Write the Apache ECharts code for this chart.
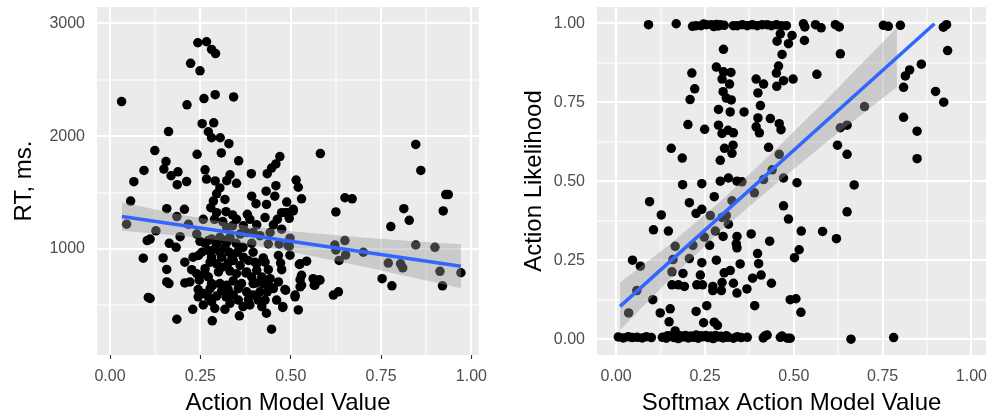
<!DOCTYPE html>
<html><head><meta charset="utf-8">
<script src="https://cdn.jsdelivr.net/npm/echarts@6/dist/echarts.min.js"></script>
<style>html,body{margin:0;padding:0;background:#fff}#c{width:990px;height:420px}</style>
</head><body><div id="c"></div>
<script>
// ---------- Left panel: Action Model Value vs RT ----------
const amvX = [0.243,0.267,0.281,0.292,0.223,0.249,0.032,0.213,0.260,0.291,0.342,0.255,0.287,0.162,0.272,0.281,0.305,0.329,0.124,0.241,
0.308,0.356,0.155,0.149,0.094,0.169,0.188,0.066,0.263,0.267,0.291,0.212,0.186,0.332,0.323,0.350,0.391,0.435,0.447,0.459,
0.470,0.459,0.582,0.846,0.860,0.515,0.521,0.304,0.295,0.456,0.432,0.530,0.392,0.404,0.286,0.279,0.489,0.157,0.206,0.321,
0.339,0.380,0.387,0.490,0.507,0.496,0.429,0.463,0.452,0.185,0.217,0.258,0.289,0.312,0.406,0.339,0.127,0.240,0.194,0.164,
0.111,0.263,0.281,0.304,0.332,0.349,0.360,0.378,0.415,0.438,0.468,0.498,0.493,0.392,0.318,0.290,0.272,0.147,0.230,0.245,
0.281,0.304,0.330,0.352,0.396,0.424,0.466,0.295,0.327,0.360,0.383,0.429,0.472,0.526,0.544,0.157,0.226,0.263,0.300,0.332,
0.438,0.475,0.240,0.272,0.157,0.207,0.247,0.304,0.341,0.364,0.392,0.420,0.443,0.466,0.526,0.530,0.562,0.581,0.567,0.244,
0.277,0.309,0.327,0.355,0.378,0.415,0.435,0.484,0.111,0.244,0.272,0.295,0.355,0.383,0.410,0.461,0.512,0.258,0.290,0.318,
0.420,0.433,0.478,0.521,0.229,0.358,0.185,0.283,0.447,0.057,0.046,0.103,0.092,0.163,0.106,0.507,0.486,0.650,0.670,0.625,
0.813,0.828,0.922,0.929,0.936,0.777,0.496,0.622,0.625,0.650,0.652,0.634,0.701,0.846,0.899,0.770,0.804,0.810,0.913,0.971,
0.753,0.780,0.920,0.524,0.530,0.526,0.512,0.579,0.565,0.486,0.618,0.632,0.478,0.249,0.318,0.368,0.338,0.310,0.376,0.404,
0.285,0.321,0.443,0.401,0.498,0.368,0.207,0.183,
0.272,0.295,0.323,0.254,0.277,0.309,0.341,0.369,0.406,0.263,0.350,0.378,0.406,0.221,0.281,0.323,0.396,0.424,0.452,0.258,
0.341,0.396,0.429,0.281,0.332,0.387,0.295,0.350,0.323,0.369,0.396,0.443,0.475,0.318,0.433,0.475];
const rtY = [2828,2837,2769,2732,2646,2579,2307,2278,2333,2368,2348,2111,2118,2041,2039,1986,1986,1933,1872,1839,
1851,1781,1775,1708,1696,1649,1684,1596,1702,1620,1603,1597,1570,1658,1605,1582,1667,1667,1717,1754,
1819,1561,1846,1927,1696,1611,1547,1541,1489,1468,1512,1445,1468,1401,1425,1366,1416,1357,1351,1331,
1302,1307,1263,1322,1351,1272,1278,1263,1214,1287,1219,1263,1263,1243,1214,1205,1161,1132,1109,1050,
1088,1050,1088,1103,1103,1050,1132,1146,1118,1044,1044,1096,1030,1050,1015,1000,986,921,927,942,
927,971,971,971,971,921,942,868,875,854,898,883,875,868,892,819,816,825,796,804,
816,816,781,752,708,699,723,693,717,693,752,752,737,708,728,679,737,723,679,640,
649,629,640,649,620,620,620,640,561,576,576,582,547,553,547,547,576,504,474,465,
489,430,482,460,465,407,377,363,289,1425,1219,1074,918,693,570,1337,1322,1454,1445,1328,
1357,1254,1337,1482,1482,1199,1024,1035,991,1074,947,898,971,1035,1015,875,868,833,802,789,
737,673,673,863,767,664,591,728,679,635,591,620,489,1068,1077,1015,927,839,787,699,
682,576,664,883,945,489,883,1015,
1074,1044,1059,971,883,927,898,927,868,781,781,796,811,708,693,679,693,693,649,605,
591,591,547,532,518,504,1322,1263,1190,1205,1146,1146,1175,1439,1395,1322];
// fitted line and 95% band
const fitLX = [0.033, 0.971];
const fitLY = [1287, 846];
const bandLX = [0.033, 0.2, 0.36, 0.5, 0.7, 0.85, 0.971];
const bandLLo = [1162, 1114, 1052, 976, 845, 739, 651];
const bandLHi = [1412, 1302, 1214, 1158, 1101, 1067, 1041];
const leftXTicks = [0, 0.25, 0.5, 0.75, 1];
const leftXMinor = [0.125, 0.375, 0.625, 0.875];
const leftYTicks = [1000, 2000, 3000];
const leftYMinor = [500, 1500, 2500];

// ---------- Right panel: Softmax Action Model Value vs Action Likelihood ----------
const smX = [
0.091,0.169,0.225,0.239,0.254,0.268,0.282,0.293,0.304,0.330,0.341,0.355,0.369,0.383,0.397,0.411,0.425,0.437,0.451,0.465,
0.479,0.527,0.531,0.561,0.577,0.617,0.628,0.752,0.766,0.800,0.921,0.930,0.215,0.246,0.275,0.288,
0.006,0.020,0.034,0.045,0.059,0.073,0.085,0.099,0.130,0.141,0.152,0.163,0.175,0.189,0.203,0.217,0.231,0.245,0.259,0.273,
0.287,0.301,0.315,0.330,0.341,0.352,0.369,0.414,0.425,0.462,0.482,0.166,0.180,0.195,0.210,0.225,0.238,0.252,0.266,0.280,
0.295,0.310,0.160,0.145,0.467,0.490,0.661,0.781,0.418,
0.462,0.495,0.453,0.485,0.530,0.302,0.467,0.631,0.933,0.282,0.302,0.323,0.213,0.457,0.451,0.471,0.498,0.565,0.809,0.814,
0.826,0.859,0.899,0.922,0.699,0.298,0.319,0.394,0.415,0.452,0.221,0.301,0.399,0.310,0.324,0.208,0.406,0.288,0.321,0.360,
0.399,0.434,0.202,0.249,0.288,0.298,0.315,0.330,0.394,0.403,0.459,0.464,0.631,0.650,0.809,0.847,0.623,0.650,0.847,0.155,
0.186,0.305,0.329,0.326,0.293,0.429,0.459,0.439,0.471,0.415,0.187,0.241,0.293,0.316,0.340,0.354,0.509,0.670,0.094,0.206,
0.276,0.471,0.485,0.127,0.225,0.241,0.265,0.298,0.310,0.326,0.389,0.650,0.105,0.147,0.166,0.216,0.248,0.263,0.279,0.301,
0.316,0.340,0.338,0.340,0.380,0.432,0.521,0.581,0.620,0.515,0.502,0.046,0.068,0.157,0.160,0.206,0.188,0.241,0.282,0.304,
0.321,0.349,0.401,0.398,0.237,0.157,0.175,0.192,0.227,0.243,0.272,0.298,0.296,0.272,0.330,0.340,0.368,0.384,0.408,0.437,
0.058,0.103,0.035,0.124,0.152,0.149,0.225,0.255,0.246,0.276,0.285,0.390,0.490,0.520,0.506];
const likY = [
0.995,0.998,0.992,0.992,0.995,0.995,0.996,0.995,0.993,0.992,0.992,0.995,0.992,0.995,0.992,0.995,0.995,0.992,0.995,0.992,
0.992,0.998,0.988,0.995,0.985,0.995,0.988,0.993,0.990,0.993,0.987,0.995,0.990,0.997,0.989,0.991,
0.007,0.004,0.008,0.005,0.006,0.004,0.008,0.005,0.006,0.003,0.009,0.005,0.002,0.007,0.004,0.006,0.003,0.008,0.005,0.002,
0.007,0.004,0.006,0.003,0.008,0.005,0.006,0.004,0.013,0.006,0.003,0.026,0.011,0.012,0.010,0.013,0.011,0.012,0.010,0.012,
0.009,0.011,0.012,0.011,0.010,0.003,0.000,0.005,0.010,
0.966,0.961,0.943,0.935,0.945,0.917,0.901,0.903,0.913,0.861,0.846,0.844,0.842,0.864,0.842,0.818,0.823,0.838,0.797,0.833,
0.852,0.870,0.784,0.750,0.736,0.823,0.807,0.823,0.807,0.800,0.792,0.783,0.779,0.763,0.757,0.758,0.739,0.727,0.719,0.719,
0.700,0.698,0.679,0.664,0.677,0.651,0.661,0.653,0.672,0.653,0.682,0.663,0.669,0.677,0.702,0.658,0.614,0.585,0.571,0.604,
0.573,0.604,0.614,0.588,0.566,0.607,0.585,0.536,0.510,0.505,0.489,0.492,0.500,0.510,0.500,0.498,0.495,0.488,0.435,0.432,
0.451,0.422,0.380,0.393,0.398,0.411,0.391,0.385,0.391,0.438,0.463,0.403,0.346,0.342,0.294,0.297,0.323,0.297,0.342,0.325,
0.364,0.325,0.302,0.289,0.333,0.310,0.342,0.341,0.318,0.283,0.258,0.250,0.231,0.213,0.252,0.255,0.208,0.242,0.250,0.210,
0.217,0.238,0.239,0.271,0.203,0.172,0.172,0.167,0.172,0.172,0.167,0.179,0.154,0.154,0.177,0.146,0.159,0.193,0.203,0.177,
0.154,0.125,0.083,0.083,0.096,0.055,0.088,0.106,0.052,0.054,0.044,0.106,0.125,0.085,0.128];
const fitRX = [0.011, 0.896];
const fitRY = [0.104, 0.998];
const bandRX = [0.011, 0.15, 0.3, 0.45, 0.6, 0.79];
const bandRLo = [0.029, 0.189, 0.349, 0.492, 0.631, 0.797];
const bandRHi = [0.179, 0.299, 0.443, 0.602, 0.767, 0.985];
const rightXTicks = [0, 0.25, 0.5, 0.75, 1];
const rightXMinor = [0.125, 0.375, 0.625, 0.875];
const rightYTicks = [0, 0.25, 0.5, 0.75, 1];
const rightYMinor = [0.125, 0.375, 0.625, 0.875];

const FONT = 'Liberation Sans, Arial, Helvetica, sans-serif';
const zip = (a, b) => a.map((v, i) => [v, b[i]]);

// panel background + grid lines drawn through the axes' own scales
function gridSeries(idx, xMaj, xMin, yMaj, yMin, xMid, yMid) {
  const lines = [];
  xMin.forEach(v => lines.push({v: v, vert: true, w: 1}));
  yMin.forEach(v => lines.push({v: v, vert: false, w: 1}));
  xMaj.forEach(v => lines.push({v: v, vert: true, w: 2}));
  yMaj.forEach(v => lines.push({v: v, vert: false, w: 2}));
  return {
    type: 'custom', xAxisIndex: idx, yAxisIndex: idx, z: 2, silent: true, animation: false,
    data: [[xMid, yMid]],
    renderItem: function (params, api) {
      const cs = params.coordSys;
      const children = [{type: 'rect', shape: {x: cs.x, y: cs.y, width: cs.width, height: cs.height},
        style: {fill: '#EBEBEB', stroke: null}}];
      lines.forEach(l => {
        if (l.vert) {
          const x = Math.round(api.coord([l.v, yMid])[0]);
          children.push({type: 'rect', shape: {x: x - l.w / 2, y: cs.y, width: l.w, height: cs.height},
            style: {fill: '#FFFFFF', stroke: null}});
        } else {
          const y = Math.round(api.coord([xMid, l.v])[1]);
          children.push({type: 'rect', shape: {x: cs.x, y: y - l.w / 2, width: cs.width, height: l.w},
            style: {fill: '#FFFFFF', stroke: null}});
        }
      });
      return {type: 'group', children: children};
    }
  };
}

function ribbon(idx, xs, lo, hi) {
  return {
    type: 'custom', xAxisIndex: idx, yAxisIndex: idx, z: 4, silent: true, animation: false,
    data: [[xs[0], lo[0]]],
    renderItem: function (params, api) {
      const pts = [];
      for (let i = 0; i < xs.length; i++) pts.push(api.coord([xs[i], hi[i]]));
      for (let i = xs.length - 1; i >= 0; i--) pts.push(api.coord([xs[i], lo[i]]));
      return {type: 'polygon', shape: {points: pts}, style: {fill: 'rgba(153,153,153,0.4)'}};
    }
  };
}

function xAxisCfg(idx, min, max, ticks, name) {
  return {
    type: 'value', gridIndex: idx, min: min, max: max,
    axisLine: {show: false},
    axisTick: {show: true, length: 4, lineStyle: {color: '#333333', width: 1.1}, customValues: ticks},
    axisLabel: {customValues: ticks, color: '#4D4D4D', fontSize: 16, fontFamily: FONT, margin: 14,
      formatter: v => v.toFixed(2)},
    splitLine: {show: false},
    name: name, nameLocation: 'middle', nameGap: 36,
    nameTextStyle: {color: '#000000', fontSize: 24, fontFamily: FONT}
  };
}
function yAxisCfg(idx, min, max, ticks, name, fmt, gap) {
  return {
    type: 'value', gridIndex: idx, min: min, max: max,
    axisLine: {show: false},
    axisTick: {show: true, length: 4, lineStyle: {color: '#333333', width: 1.1}, customValues: ticks},
    axisLabel: {customValues: ticks, color: '#4D4D4D', fontSize: 16, fontFamily: FONT, margin: 12,
      formatter: fmt},
    splitLine: {show: false},
    name: name, nameLocation: 'middle', nameGap: gap,
    nameTextStyle: {color: '#000000', fontSize: 24, fontFamily: FONT}
  };
}

const chart = echarts.init(document.getElementById('c'), null, {renderer: 'canvas'});
chart.setOption({
  animation: false,
  backgroundColor: '#ffffff',
  grid: [
    {left: 97, top: 7, width: 382, height: 352, show: false},
    {left: 597, top: 7, width: 389, height: 352, show: false}
  ],
  xAxis: [
    xAxisCfg(0, -0.036, 1.021, leftXTicks, 'Action Model Value'),
    xAxisCfg(1, -0.054, 1.041, rightXTicks, 'Softmax Action Model Value')
  ],
  yAxis: [
    yAxisCfg(0, 60, 3145, leftYTicks, 'RT, ms.', v => String(v), 61),
    yAxisCfg(1, -0.05, 1.051, rightYTicks, 'Action Likelihood', v => v.toFixed(2), 51)
  ],
  series: [
    gridSeries(0, leftXTicks, leftXMinor, leftYTicks, leftYMinor, 0.5, 1500),
    gridSeries(1, rightXTicks, rightXMinor, rightYTicks, rightYMinor, 0.5, 0.5),
    {type: 'scatter', xAxisIndex: 0, yAxisIndex: 0, z: 3, data: zip(amvX, rtY), symbolSize: 9.5,
      itemStyle: {color: '#000000', opacity: 1}, silent: true},
    ribbon(0, bandLX, bandLLo, bandLHi),
    {type: 'line', xAxisIndex: 0, yAxisIndex: 0, z: 5, data: zip(fitLX, fitLY), showSymbol: false,
      symbol: 'none', lineStyle: {color: '#3366FF', width: 3.5}, silent: true},
    {type: 'scatter', xAxisIndex: 1, yAxisIndex: 1, z: 3, data: zip(smX, likY), symbolSize: 9.5,
      itemStyle: {color: '#000000', opacity: 1}, silent: true},
    ribbon(1, bandRX, bandRLo, bandRHi),
    {type: 'line', xAxisIndex: 1, yAxisIndex: 1, z: 5, data: zip(fitRX, fitRY), showSymbol: false,
      symbol: 'none', lineStyle: {color: '#3366FF', width: 3.5}, silent: true}
  ]
});
</script>
</body></html>
